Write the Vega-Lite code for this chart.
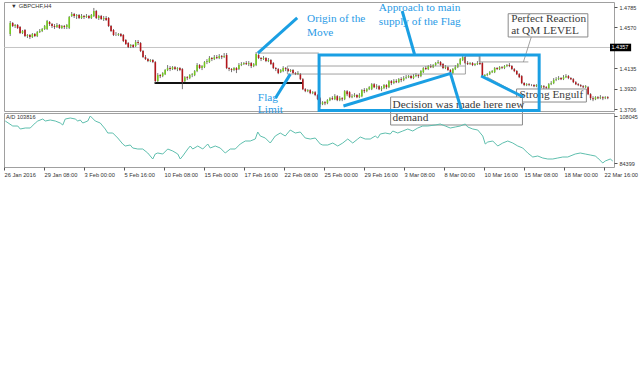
{
"$schema":"https://vega.github.io/schema/vega-lite/v6.json",
"padding":{"left":2,"top":1,"right":0,"bottom":0},
"bounds":"flush",
"spacing":2,
"background":"white",
"config":{"view":{"stroke":"#a0a0a0","strokeWidth":1},"axis":{"labelFont":"Liberation Sans","labelFontSize":5.7,"labelColor":"#333","tickColor":"#555","tickSize":3,"domain":false,"grid":false,"labelOverlap":false}},
"datasets":{
"candles":[
{"i":0,"o":1.4499,"h":1.4637,"l":1.4478,"c":1.4616},{"i":1,"o":1.4616,"h":1.4626,"l":1.4573,"c":1.4584},{"i":2,"o":1.4584,"h":1.4605,"l":1.4563,"c":1.4595},{"i":3,"o":1.4595,"h":1.4605,"l":1.4552,"c":1.4563},{"i":4,"o":1.4573,"h":1.4584,"l":1.4499,"c":1.4510},{"i":5,"o":1.4510,"h":1.4542,"l":1.4499,"c":1.4531},{"i":6,"o":1.4542,"h":1.4552,"l":1.4467,"c":1.4478},{"i":7,"o":1.4478,"h":1.4499,"l":1.4457,"c":1.4489},{"i":8,"o":1.4489,"h":1.4499,"l":1.4446,"c":1.4467},{"i":9,"o":1.4467,"h":1.4510,"l":1.4457,"c":1.4499},
{"i":10,"o":1.4499,"h":1.4510,"l":1.4467,"c":1.4478},{"i":11,"o":1.4478,"h":1.4531,"l":1.4467,"c":1.4520},{"i":12,"o":1.4520,"h":1.4552,"l":1.4510,"c":1.4531},{"i":13,"o":1.4531,"h":1.4563,"l":1.4520,"c":1.4552},{"i":14,"o":1.4552,"h":1.4595,"l":1.4542,"c":1.4584},{"i":15,"o":1.4552,"h":1.4648,"l":1.4542,"c":1.4637},{"i":16,"o":1.4626,"h":1.4637,"l":1.4584,"c":1.4605},{"i":17,"o":1.4605,"h":1.4616,"l":1.4563,"c":1.4584},{"i":18,"o":1.4584,"h":1.4605,"l":1.4552,"c":1.4573},{"i":19,"o":1.4573,"h":1.4616,"l":1.4563,"c":1.4595},
{"i":20,"o":1.4595,"h":1.4605,"l":1.4552,"c":1.4563},{"i":21,"o":1.4563,"h":1.4595,"l":1.4552,"c":1.4584},{"i":22,"o":1.4584,"h":1.4595,"l":1.4552,"c":1.4573},{"i":23,"o":1.4573,"h":1.4605,"l":1.4552,"c":1.4595},{"i":24,"o":1.4563,"h":1.4690,"l":1.4552,"c":1.4679},{"i":25,"o":1.4690,"h":1.4732,"l":1.4679,"c":1.4711},{"i":26,"o":1.4711,"h":1.4722,"l":1.4669,"c":1.4690},{"i":27,"o":1.4690,"h":1.4711,"l":1.4658,"c":1.4701},{"i":28,"o":1.4701,"h":1.4711,"l":1.4658,"c":1.4669},{"i":29,"o":1.4669,"h":1.4711,"l":1.4658,"c":1.4690},
{"i":30,"o":1.4690,"h":1.4701,"l":1.4658,"c":1.4679},{"i":31,"o":1.4679,"h":1.4711,"l":1.4669,"c":1.4690},{"i":32,"o":1.4690,"h":1.4701,"l":1.4658,"c":1.4669},{"i":33,"o":1.4669,"h":1.4711,"l":1.4658,"c":1.4701},{"i":34,"o":1.4690,"h":1.4775,"l":1.4679,"c":1.4743},{"i":35,"o":1.4743,"h":1.4754,"l":1.4658,"c":1.4669},{"i":36,"o":1.4669,"h":1.4701,"l":1.4648,"c":1.4690},{"i":37,"o":1.4690,"h":1.4701,"l":1.4648,"c":1.4658},{"i":38,"o":1.4658,"h":1.4690,"l":1.4637,"c":1.4669},{"i":39,"o":1.4669,"h":1.4690,"l":1.4637,"c":1.4648},
{"i":40,"o":1.4669,"h":1.4679,"l":1.4573,"c":1.4584},{"i":41,"o":1.4584,"h":1.4595,"l":1.4520,"c":1.4531},{"i":42,"o":1.4542,"h":1.4552,"l":1.4478,"c":1.4489},{"i":43,"o":1.4499,"h":1.4520,"l":1.4478,"c":1.4499},{"i":44,"o":1.4489,"h":1.4510,"l":1.4478,"c":1.4499},{"i":45,"o":1.4499,"h":1.4510,"l":1.4467,"c":1.4478},{"i":46,"o":1.4489,"h":1.4499,"l":1.4414,"c":1.4425},{"i":47,"o":1.4436,"h":1.4446,"l":1.4383,"c":1.4393},{"i":48,"o":1.4404,"h":1.4414,"l":1.4351,"c":1.4361},{"i":49,"o":1.4372,"h":1.4393,"l":1.4351,"c":1.4383},
{"i":50,"o":1.4383,"h":1.4393,"l":1.4351,"c":1.4361},{"i":51,"o":1.4372,"h":1.4436,"l":1.4361,"c":1.4414},{"i":52,"o":1.4414,"h":1.4436,"l":1.4383,"c":1.4404},{"i":53,"o":1.4404,"h":1.4414,"l":1.4308,"c":1.4319},{"i":54,"o":1.4319,"h":1.4330,"l":1.4245,"c":1.4255},{"i":55,"o":1.4255,"h":1.4277,"l":1.4224,"c":1.4234},{"i":56,"o":1.4234,"h":1.4245,"l":1.4202,"c":1.4213},{"i":57,"o":1.4213,"h":1.4234,"l":1.4202,"c":1.4224},{"i":58,"o":1.4224,"h":1.4234,"l":1.4192,"c":1.4202},{"i":59,"o":1.4202,"h":1.4213,"l":1.3980,"c":1.4001},
{"i":60,"o":1.4001,"h":1.4086,"l":1.3990,"c":1.4065},{"i":61,"o":1.4065,"h":1.4075,"l":1.4033,"c":1.4054},{"i":62,"o":1.4054,"h":1.4096,"l":1.4043,"c":1.4086},{"i":63,"o":1.4075,"h":1.4128,"l":1.4065,"c":1.4118},{"i":64,"o":1.4118,"h":1.4171,"l":1.4107,"c":1.4139},{"i":65,"o":1.4139,"h":1.4160,"l":1.4107,"c":1.4128},{"i":66,"o":1.4128,"h":1.4160,"l":1.4118,"c":1.4149},{"i":67,"o":1.4149,"h":1.4160,"l":1.4118,"c":1.4128},{"i":68,"o":1.4128,"h":1.4149,"l":1.4107,"c":1.4139},{"i":69,"o":1.4139,"h":1.4149,"l":1.4107,"c":1.4118},
{"i":70,"o":1.4128,"h":1.4139,"l":1.3916,"c":1.3990},{"i":71,"o":1.4001,"h":1.4054,"l":1.3990,"c":1.4043},{"i":72,"o":1.4043,"h":1.4054,"l":1.4012,"c":1.4033},{"i":73,"o":1.4033,"h":1.4075,"l":1.4022,"c":1.4065},{"i":74,"o":1.4065,"h":1.4086,"l":1.4043,"c":1.4075},{"i":75,"o":1.4065,"h":1.4118,"l":1.4054,"c":1.4107},{"i":76,"o":1.4107,"h":1.4192,"l":1.4096,"c":1.4171},{"i":77,"o":1.4171,"h":1.4181,"l":1.4128,"c":1.4139},{"i":78,"o":1.4139,"h":1.4171,"l":1.4118,"c":1.4160},{"i":79,"o":1.4149,"h":1.4213,"l":1.4139,"c":1.4202},
{"i":80,"o":1.4202,"h":1.4234,"l":1.4181,"c":1.4213},{"i":81,"o":1.4202,"h":1.4266,"l":1.4192,"c":1.4245},{"i":82,"o":1.4245,"h":1.4255,"l":1.4213,"c":1.4234},{"i":83,"o":1.4234,"h":1.4277,"l":1.4224,"c":1.4255},{"i":84,"o":1.4255,"h":1.4277,"l":1.4234,"c":1.4245},{"i":85,"o":1.4245,"h":1.4287,"l":1.4234,"c":1.4266},{"i":86,"o":1.4266,"h":1.4277,"l":1.4234,"c":1.4255},{"i":87,"o":1.4255,"h":1.4298,"l":1.4245,"c":1.4266},{"i":88,"o":1.4277,"h":1.4298,"l":1.4128,"c":1.4139},{"i":89,"o":1.4139,"h":1.4149,"l":1.4107,"c":1.4128},
{"i":90,"o":1.4128,"h":1.4139,"l":1.4096,"c":1.4118},{"i":91,"o":1.4118,"h":1.4149,"l":1.4107,"c":1.4139},{"i":92,"o":1.4139,"h":1.4149,"l":1.4086,"c":1.4118},{"i":93,"o":1.4128,"h":1.4192,"l":1.4118,"c":1.4171},{"i":94,"o":1.4171,"h":1.4202,"l":1.4160,"c":1.4181},{"i":95,"o":1.4181,"h":1.4202,"l":1.4171,"c":1.4192},{"i":96,"o":1.4192,"h":1.4213,"l":1.4171,"c":1.4181},{"i":97,"o":1.4181,"h":1.4213,"l":1.4160,"c":1.4192},{"i":98,"o":1.4192,"h":1.4202,"l":1.4139,"c":1.4160},{"i":99,"o":1.4160,"h":1.4192,"l":1.4149,"c":1.4181},
{"i":100,"o":1.4171,"h":1.4308,"l":1.4160,"c":1.4287},{"i":101,"o":1.4277,"h":1.4287,"l":1.4234,"c":1.4245},{"i":102,"o":1.4245,"h":1.4255,"l":1.4213,"c":1.4234},{"i":103,"o":1.4234,"h":1.4266,"l":1.4224,"c":1.4245},{"i":104,"o":1.4245,"h":1.4255,"l":1.4202,"c":1.4213},{"i":105,"o":1.4213,"h":1.4245,"l":1.4202,"c":1.4224},{"i":106,"o":1.4224,"h":1.4234,"l":1.4171,"c":1.4181},{"i":107,"o":1.4192,"h":1.4202,"l":1.4128,"c":1.4139},{"i":108,"o":1.4139,"h":1.4149,"l":1.4107,"c":1.4128},{"i":109,"o":1.4128,"h":1.4139,"l":1.4075,"c":1.4086},
{"i":110,"o":1.4096,"h":1.4128,"l":1.4086,"c":1.4118},{"i":111,"o":1.4107,"h":1.4160,"l":1.4096,"c":1.4139},{"i":112,"o":1.4139,"h":1.4149,"l":1.4107,"c":1.4128},{"i":113,"o":1.4128,"h":1.4139,"l":1.4096,"c":1.4107},{"i":114,"o":1.4107,"h":1.4128,"l":1.4096,"c":1.4118},{"i":115,"o":1.4118,"h":1.4128,"l":1.4075,"c":1.4086},{"i":116,"o":1.4086,"h":1.4096,"l":1.4065,"c":1.4075},{"i":117,"o":1.4075,"h":1.4107,"l":1.4065,"c":1.4086},{"i":118,"o":1.4075,"h":1.4086,"l":1.4012,"c":1.4022},{"i":119,"o":1.4022,"h":1.4033,"l":1.3906,"c":1.3916},
{"i":120,"o":1.3916,"h":1.3927,"l":1.3884,"c":1.3895},{"i":121,"o":1.3895,"h":1.3916,"l":1.3884,"c":1.3906},{"i":122,"o":1.3906,"h":1.3916,"l":1.3863,"c":1.3874},{"i":123,"o":1.3874,"h":1.3895,"l":1.3863,"c":1.3884},{"i":124,"o":1.3884,"h":1.3895,"l":1.3842,"c":1.3853},{"i":125,"o":1.3853,"h":1.3863,"l":1.3800,"c":1.3810},{"i":126,"o":1.3821,"h":1.3831,"l":1.3725,"c":1.3757},{"i":127,"o":1.3757,"h":1.3789,"l":1.3747,"c":1.3778},{"i":128,"o":1.3778,"h":1.3789,"l":1.3747,"c":1.3768},{"i":129,"o":1.3768,"h":1.3810,"l":1.3757,"c":1.3800},
{"i":130,"o":1.3800,"h":1.3831,"l":1.3789,"c":1.3821},{"i":131,"o":1.3821,"h":1.3842,"l":1.3800,"c":1.3810},{"i":132,"o":1.3810,"h":1.3863,"l":1.3800,"c":1.3842},{"i":133,"o":1.3842,"h":1.3853,"l":1.3789,"c":1.3800},{"i":134,"o":1.3800,"h":1.3842,"l":1.3789,"c":1.3821},{"i":135,"o":1.3821,"h":1.3831,"l":1.3789,"c":1.3810},{"i":136,"o":1.3810,"h":1.3906,"l":1.3800,"c":1.3895},{"i":137,"o":1.3895,"h":1.3906,"l":1.3842,"c":1.3863},{"i":138,"o":1.3884,"h":1.3895,"l":1.3821,"c":1.3831},{"i":139,"o":1.3831,"h":1.3863,"l":1.3821,"c":1.3842},
{"i":140,"o":1.3842,"h":1.3874,"l":1.3831,"c":1.3853},{"i":141,"o":1.3853,"h":1.3863,"l":1.3821,"c":1.3831},{"i":142,"o":1.3831,"h":1.3874,"l":1.3821,"c":1.3853},{"i":143,"o":1.3842,"h":1.3916,"l":1.3831,"c":1.3906},{"i":144,"o":1.3906,"h":1.3927,"l":1.3874,"c":1.3895},{"i":145,"o":1.3895,"h":1.3927,"l":1.3884,"c":1.3916},{"i":146,"o":1.3916,"h":1.3948,"l":1.3906,"c":1.3937},{"i":147,"o":1.3916,"h":1.3980,"l":1.3906,"c":1.3969},{"i":148,"o":1.3969,"h":1.3980,"l":1.3927,"c":1.3937},{"i":149,"o":1.3937,"h":1.3969,"l":1.3916,"c":1.3948},
{"i":150,"o":1.3948,"h":1.3959,"l":1.3906,"c":1.3916},{"i":151,"o":1.3916,"h":1.3948,"l":1.3895,"c":1.3927},{"i":152,"o":1.3927,"h":1.3969,"l":1.3916,"c":1.3959},{"i":153,"o":1.3959,"h":1.3969,"l":1.3916,"c":1.3937},{"i":154,"o":1.3937,"h":1.4012,"l":1.3927,"c":1.4001},{"i":155,"o":1.4001,"h":1.4012,"l":1.3959,"c":1.3980},{"i":156,"o":1.3980,"h":1.4022,"l":1.3969,"c":1.4001},{"i":157,"o":1.4001,"h":1.4022,"l":1.3980,"c":1.3990},{"i":158,"o":1.3990,"h":1.4033,"l":1.3980,"c":1.4022},{"i":159,"o":1.4022,"h":1.4043,"l":1.3990,"c":1.4012},
{"i":160,"o":1.4012,"h":1.4054,"l":1.4001,"c":1.4033},{"i":161,"o":1.4033,"h":1.4065,"l":1.4022,"c":1.4043},{"i":162,"o":1.4043,"h":1.4065,"l":1.4033,"c":1.4054},{"i":163,"o":1.4054,"h":1.4065,"l":1.4022,"c":1.4033},{"i":164,"o":1.4033,"h":1.4075,"l":1.4022,"c":1.4054},{"i":165,"o":1.4054,"h":1.4086,"l":1.4043,"c":1.4065},{"i":166,"o":1.4065,"h":1.4075,"l":1.4033,"c":1.4054},{"i":167,"o":1.4054,"h":1.4118,"l":1.4043,"c":1.4107},{"i":168,"o":1.4096,"h":1.4149,"l":1.4086,"c":1.4139},{"i":169,"o":1.4139,"h":1.4160,"l":1.4118,"c":1.4128},
{"i":170,"o":1.4128,"h":1.4171,"l":1.4118,"c":1.4160},{"i":171,"o":1.4160,"h":1.4181,"l":1.4139,"c":1.4149},{"i":172,"o":1.4149,"h":1.4181,"l":1.4139,"c":1.4171},{"i":173,"o":1.4171,"h":1.4202,"l":1.4160,"c":1.4192},{"i":174,"o":1.4192,"h":1.4224,"l":1.4181,"c":1.4202},{"i":175,"o":1.4202,"h":1.4213,"l":1.4160,"c":1.4171},{"i":176,"o":1.4181,"h":1.4192,"l":1.4128,"c":1.4139},{"i":177,"o":1.4139,"h":1.4171,"l":1.4128,"c":1.4149},{"i":178,"o":1.4149,"h":1.4160,"l":1.4107,"c":1.4118},{"i":179,"o":1.4118,"h":1.4128,"l":1.4065,"c":1.4086},
{"i":180,"o":1.4086,"h":1.4139,"l":1.4075,"c":1.4128},{"i":181,"o":1.4128,"h":1.4171,"l":1.4118,"c":1.4149},{"i":182,"o":1.4149,"h":1.4192,"l":1.4139,"c":1.4181},{"i":183,"o":1.4181,"h":1.4245,"l":1.4171,"c":1.4234},{"i":184,"o":1.4224,"h":1.4287,"l":1.4213,"c":1.4255},{"i":185,"o":1.4255,"h":1.4266,"l":1.4181,"c":1.4192},{"i":186,"o":1.4192,"h":1.4213,"l":1.4171,"c":1.4181},{"i":187,"o":1.4181,"h":1.4202,"l":1.4171,"c":1.4192},{"i":188,"o":1.4192,"h":1.4202,"l":1.4160,"c":1.4171},{"i":189,"o":1.4171,"h":1.4192,"l":1.4160,"c":1.4181},
{"i":190,"o":1.4181,"h":1.4213,"l":1.4171,"c":1.4192},{"i":191,"o":1.4192,"h":1.4266,"l":1.4171,"c":1.4181},{"i":192,"o":1.4192,"h":1.4202,"l":1.4043,"c":1.4054},{"i":193,"o":1.4054,"h":1.4075,"l":1.4043,"c":1.4065},{"i":194,"o":1.4065,"h":1.4086,"l":1.4054,"c":1.4075},{"i":195,"o":1.4075,"h":1.4107,"l":1.4065,"c":1.4096},{"i":196,"o":1.4096,"h":1.4118,"l":1.4086,"c":1.4107},{"i":197,"o":1.4096,"h":1.4149,"l":1.4086,"c":1.4139},{"i":198,"o":1.4139,"h":1.4149,"l":1.4118,"c":1.4128},{"i":199,"o":1.4128,"h":1.4160,"l":1.4118,"c":1.4149},
{"i":200,"o":1.4149,"h":1.4160,"l":1.4128,"c":1.4139},{"i":201,"o":1.4139,"h":1.4171,"l":1.4128,"c":1.4160},{"i":202,"o":1.4160,"h":1.4181,"l":1.4149,"c":1.4171},{"i":203,"o":1.4171,"h":1.4192,"l":1.4149,"c":1.4160},{"i":204,"o":1.4160,"h":1.4171,"l":1.4118,"c":1.4128},{"i":205,"o":1.4128,"h":1.4139,"l":1.4096,"c":1.4107},{"i":206,"o":1.4107,"h":1.4118,"l":1.4065,"c":1.4075},{"i":207,"o":1.4075,"h":1.4086,"l":1.4033,"c":1.4043},{"i":208,"o":1.4054,"h":1.4065,"l":1.3969,"c":1.3980},{"i":209,"o":1.3980,"h":1.3990,"l":1.3948,"c":1.3959},
{"i":210,"o":1.3959,"h":1.3980,"l":1.3948,"c":1.3969},{"i":211,"o":1.3969,"h":1.3980,"l":1.3948,"c":1.3959},{"i":212,"o":1.3959,"h":1.3969,"l":1.3948,"c":1.3959},{"i":213,"o":1.3959,"h":1.3969,"l":1.3937,"c":1.3948},{"i":214,"o":1.3948,"h":1.3969,"l":1.3937,"c":1.3959},{"i":215,"o":1.3959,"h":1.3969,"l":1.3927,"c":1.3937},{"i":216,"o":1.3937,"h":1.3959,"l":1.3927,"c":1.3948},{"i":217,"o":1.3948,"h":1.3959,"l":1.3916,"c":1.3937},{"i":218,"o":1.3937,"h":1.3948,"l":1.3906,"c":1.3927},{"i":219,"o":1.3927,"h":1.3980,"l":1.3916,"c":1.3969},
{"i":220,"o":1.3969,"h":1.4001,"l":1.3959,"c":1.3980},{"i":221,"o":1.3980,"h":1.4033,"l":1.3969,"c":1.4012},{"i":222,"o":1.4012,"h":1.4043,"l":1.4001,"c":1.4022},{"i":223,"o":1.4022,"h":1.4054,"l":1.4012,"c":1.4033},{"i":224,"o":1.4033,"h":1.4043,"l":1.4012,"c":1.4022},{"i":225,"o":1.4022,"h":1.4065,"l":1.4012,"c":1.4043},{"i":226,"o":1.4043,"h":1.4075,"l":1.4033,"c":1.4054},{"i":227,"o":1.4054,"h":1.4065,"l":1.4022,"c":1.4033},{"i":228,"o":1.4033,"h":1.4043,"l":1.4012,"c":1.4022},{"i":229,"o":1.4022,"h":1.4033,"l":1.3980,"c":1.3990},
{"i":230,"o":1.3990,"h":1.4001,"l":1.3959,"c":1.3969},{"i":231,"o":1.3969,"h":1.3980,"l":1.3948,"c":1.3959},{"i":232,"o":1.3959,"h":1.3969,"l":1.3937,"c":1.3948},{"i":233,"o":1.3948,"h":1.3959,"l":1.3927,"c":1.3937},{"i":234,"o":1.3937,"h":1.3959,"l":1.3927,"c":1.3948},{"i":235,"o":1.3937,"h":1.3948,"l":1.3853,"c":1.3863},{"i":236,"o":1.3863,"h":1.3874,"l":1.3800,"c":1.3821},{"i":237,"o":1.3821,"h":1.3842,"l":1.3789,"c":1.3810},{"i":238,"o":1.3810,"h":1.3842,"l":1.3800,"c":1.3831},{"i":239,"o":1.3831,"h":1.3842,"l":1.3810,"c":1.3821},
{"i":240,"o":1.3821,"h":1.3853,"l":1.3810,"c":1.3831},{"i":241,"o":1.3831,"h":1.3842,"l":1.3800,"c":1.3821},{"i":242,"o":1.3821,"h":1.3842,"l":1.3810,"c":1.3831},{"i":243,"o":1.3831,"h":1.3842,"l":1.3810,"c":1.3821}
],
"ad":[
{"i":0,"v":105530},{"i":3,"v":103015},{"i":5,"v":103015},{"i":6,"v":101506},{"i":8,"v":102009},{"i":10,"v":102009},{"i":12,"v":104524},{"i":13,"v":105530},{"i":15,"v":106536},{"i":16,"v":105530},{"i":18,"v":106033},{"i":20,"v":105530},{"i":22,"v":104524},{"i":23,"v":103518},{"i":24,"v":106536},{"i":26,"v":107039},{"i":28,"v":106536},{"i":29,"v":105530},{"i":30,"v":106033},{"i":31,"v":104524},{"i":33,"v":105530},{"i":34,"v":108045},{"i":36,"v":105530},{"i":38,"v":104524},{"i":40,"v":101506},{"i":41,"v":99494},{"i":43,"v":99494},{"i":45,"v":96979},{"i":47,"v":93961},{"i":48,"v":92955},{"i":50,"v":93458},{"i":51,"v":91949},{"i":53,"v":91446},{"i":55,"v":91446},{"i":57,"v":89434},{"i":59,"v":86416},{"i":60,"v":88931},{"i":61,"v":89434},{"i":63,"v":88931},{"i":65,"v":91446},{"i":67,"v":90440},{"i":69,"v":88931},{"i":70,"v":86416},{"i":71,"v":87925},{"i":73,"v":91446},{"i":74,"v":92955},{"i":75,"v":91446},{"i":77,"v":92955},{"i":79,"v":91446},{"i":81,"v":93961},{"i":82,"v":91949},{"i":84,"v":92955},{"i":86,"v":91949},{"i":88,"v":89434},{"i":90,"v":91446},{"i":92,"v":91446},{"i":94,"v":93961},{"i":96,"v":95470},{"i":98,"v":95470},{"i":100,"v":96476},{"i":101,"v":99997},{"i":102,"v":97985},{"i":104,"v":96979},{"i":106,"v":94464},{"i":108,"v":97985},{"i":110,"v":99494},{"i":112,"v":97985},{"i":114,"v":101003},{"i":116,"v":99494},{"i":118,"v":99997},{"i":120,"v":96979},{"i":122,"v":96476},{"i":124,"v":96979},{"i":126,"v":93961},{"i":127,"v":93458},{"i":129,"v":93458},{"i":131,"v":94464},{"i":133,"v":92955},{"i":135,"v":94464},{"i":137,"v":96476},{"i":139,"v":94464},{"i":141,"v":96476},{"i":142,"v":97482},{"i":144,"v":96476},{"i":146,"v":96476},{"i":148,"v":97985},{"i":149,"v":96979},{"i":150,"v":98991},{"i":152,"v":99494},{"i":154,"v":98991},{"i":155,"v":100500},{"i":157,"v":99494},{"i":159,"v":100500},{"i":161,"v":101506},{"i":163,"v":100500},{"i":165,"v":102009},{"i":167,"v":103015},{"i":169,"v":103015},{"i":172,"v":103518},{"i":174,"v":104021},{"i":176,"v":103015},{"i":178,"v":102009},{"i":180,"v":102512},{"i":182,"v":103015},{"i":184,"v":104021},{"i":185,"v":102512},{"i":187,"v":101506},{"i":189,"v":101003},{"i":191,"v":97985},{"i":192,"v":93961},{"i":193,"v":94967},{"i":195,"v":95470},{"i":197,"v":92955},{"i":199,"v":94464},{"i":201,"v":95470},{"i":203,"v":94464},{"i":205,"v":92955},{"i":207,"v":91949},{"i":209,"v":89434},{"i":211,"v":87422},{"i":213,"v":87925},{"i":215,"v":86919},{"i":217,"v":86416},{"i":219,"v":86416},{"i":221,"v":86919},{"i":223,"v":87422},{"i":225,"v":87422},{"i":228,"v":88931},{"i":230,"v":89434},{"i":232,"v":88931},{"i":234,"v":88428},{"i":236,"v":87925},{"i":237,"v":86919},{"i":239,"v":84399},{"i":240,"v":85410},{"i":242,"v":86416},{"i":243,"v":85410}
],
"lines":[
{"k":"gray","x":100.7,"x2":125.5,"y":1.4298,"y2":1.4298},
{"k":"gray","x":112.7,"x2":185.1,"y":1.4161,"y2":1.4161},
{"k":"gray","x":112.7,"x2":185.1,"y":1.4076,"y2":1.4076},
{"k":"gray","x":112.7,"x2":112.7,"y":1.4161,"y2":1.4076},
{"k":"gray","x":185.1,"x2":185.1,"y":1.4267,"y2":1.4076},
{"k":"gray","x":185.1,"x2":190.7,"y":1.4267,"y2":1.4267},
{"k":"gray","x":190.7,"x2":190.7,"y":1.4267,"y2":1.4204},
{"k":"gray","x":190.7,"x2":210.7,"y":1.4204,"y2":1.4204},
{"k":"gray","x":211.9,"x2":208.7,"y":1.4468,"y2":1.4204},
{"k":"gray","x":193.9,"x2":205.9,"y":1.4044,"y2":1.3875},
{"k":"black","x":58.7,"x2":118.7,"y":1.3981,"y2":1.3981},
{"k":"blue","x":100.7,"x2":116.7,"y":1.4298,"y2":1.4669},
{"k":"blue","x":107.9,"x2":113.9,"y":1.3822,"y2":1.4075},
{"k":"blue","x":159.4,"x2":164.4,"y":1.4743,"y2":1.4285},
{"k":"blue","x":135.5,"x2":179.5,"y":1.3738,"y2":1.4086},
{"k":"blue","x":179.1,"x2":183.5,"y":1.4076,"y2":1.3695},
{"k":"blue","x":191.5,"x2":208.7,"y":1.4055,"y2":1.3833}
],
"boxes":[
{"k":"note","x":202.5,"x2":234.9,"y":1.4714,"y2":1.4468},
{"k":"note","x":205.9,"x2":234.3,"y":1.3918,"y2":1.3780},
{"k":"note","x":154.7,"x2":208.3,"y":1.3833,"y2":1.3537},
{"k":"zone","x":125.6,"x2":215.1,"y":1.4277,"y2":1.3690}
],
"labels":[
{"k":"blue","t":"Origin of the","x":120.7,"y":1.4658},
{"k":"blue","t":"Move","x":120.7,"y":1.4510},
{"k":"blue","t":"Approach to main","x":149.9,"y":1.4774},
{"k":"blue","t":"supply of the Flag","x":149.9,"y":1.4626},
{"k":"blue","t":"Flag","x":100.7,"y":1.3822},
{"k":"blue","t":"Limit","x":100.7,"y":1.3695},
{"k":"dark","t":"Perfect Reaction","x":203.7,"y":1.4653},
{"k":"dark","t":"at QM LEVEL","x":203.7,"y":1.4526},
{"k":"dark","t":"Strong Engulf","x":207.1,"y":1.3849},
{"k":"dark","t":"Decision was made here new","x":155.5,"y":1.3748},
{"k":"dark","t":"demand","x":155.5,"y":1.3611}
]
},
"vconcat":[
{
"width":610,"height":109,
"layer":[
{"data":{"values":[{"p":1.4357}]},"mark":{"type":"rule","color":"#c4c4c4","strokeWidth":1},
 "encoding":{"y":{"field":"p","type":"quantitative","title":null,"scale":{"domain":[1.3685,1.4838],"nice":false,"zero":false},"axis":{"orient":"right","values":[1.4785,1.457,1.4135,1.392,1.3706],"tickCount":20,"format":".4f","labelFontSize":5.5,"labelOverlap":false}}}},
{"data":{"name":"lines"},"transform":[{"filter":"datum.k=='black'"}],"mark":{"type":"rule","color":"#111","strokeWidth":2},
 "encoding":{"x":{"field":"x","type":"quantitative","scale":{"domain":[-0.5,243.5],"nice":false,"zero":false},"axis":null},"x2":{"field":"x2"},"y":{"field":"y","type":"quantitative","title":null},"y2":{"field":"y2"}}},
{"data":{"name":"candles"},"mark":{"type":"rule","color":"#505050","strokeWidth":0.8},
 "encoding":{"x":{"field":"i","type":"quantitative","axis":null},"y":{"field":"l","type":"quantitative","title":null},"y2":{"field":"h"}}},
{"data":{"name":"candles"},"mark":{"type":"bar","width":1.6},
 "encoding":{"x":{"field":"i","type":"quantitative","axis":null},"y":{"field":"o","type":"quantitative","title":null},"y2":{"field":"c"},
 "color":{"condition":{"test":"datum.c>=datum.o","value":"#74c820"},"value":"#b3161b"}}},
{"data":{"name":"lines"},"transform":[{"filter":"datum.k=='gray'"}],"mark":{"type":"rule","color":"#8a8a8a","strokeWidth":0.8},
 "encoding":{"x":{"field":"x","type":"quantitative","axis":null},"x2":{"field":"x2"},"y":{"field":"y","type":"quantitative","title":null},"y2":{"field":"y2"}}},
{"data":{"name":"boxes"},"transform":[{"filter":"datum.k=='note'"}],"mark":{"type":"rect","fill":"white","stroke":"#8a8a8a","strokeWidth":1},
 "encoding":{"x":{"field":"x","type":"quantitative","axis":null},"x2":{"field":"x2"},"y":{"field":"y","type":"quantitative","title":null},"y2":{"field":"y2"}}},
{"data":{"name":"labels"},"mark":{"type":"text","align":"left","baseline":"middle","font":"Liberation Serif","fontSize":11.3},
 "encoding":{"x":{"field":"x","type":"quantitative","axis":null},"y":{"field":"y","type":"quantitative","title":null},"text":{"field":"t"},
 "color":{"field":"k","type":"nominal","scale":{"domain":["blue","dark"],"range":["#2a9be6","#3a3a3a"]},"legend":null}}},
{"data":{"name":"boxes"},"transform":[{"filter":"datum.k=='zone'"}],"mark":{"type":"rect","fill":null,"stroke":"#1a9fe3","strokeWidth":3},
 "encoding":{"x":{"field":"x","type":"quantitative","axis":null},"x2":{"field":"x2"},"y":{"field":"y","type":"quantitative","title":null},"y2":{"field":"y2"}}},
{"data":{"name":"lines"},"transform":[{"filter":"datum.k=='blue'"}],"mark":{"type":"rule","color":"#1a9fe3","strokeWidth":3},
 "encoding":{"x":{"field":"x","type":"quantitative","axis":null},"x2":{"field":"x2"},"y":{"field":"y","type":"quantitative","title":null},"y2":{"field":"y2"}}},
{"data":{"values":[{"t":"▼","x":0.3,"y":1.4796},{"t":"GBPCHF,H4","x":3.5,"y":1.4796}]},"mark":{"type":"text","align":"left","baseline":"middle","font":"Liberation Sans","fontSize":5.8,"color":"#333"},
 "encoding":{"x":{"field":"x","type":"quantitative","axis":null},"y":{"field":"y","type":"quantitative","title":null},"text":{"field":"t"}}},
{"data":{"values":[{"x":243.9,"x2":252.5,"y":1.4397,"y2":1.4317}]},"mark":{"type":"rect","fill":"black"},
 "encoding":{"x":{"field":"x","type":"quantitative","axis":null},"x2":{"field":"x2"},"y":{"field":"y","type":"quantitative","title":null},"y2":{"field":"y2"}}},
{"data":{"values":[{"x":243.9,"p":1.4357,"t":"1.4357"}]},"mark":{"type":"text","align":"left","baseline":"middle","font":"Liberation Sans","fontSize":5.5,"color":"white","dx":1.5},
 "encoding":{"x":{"field":"x","type":"quantitative","axis":null},"y":{"field":"p","type":"quantitative","title":null},"text":{"field":"t"}}}
]
},
{
"width":610,"height":54,
"layer":[
{"data":{"name":"ad"},"mark":{"type":"line","color":"#5fbfae","strokeWidth":1},
 "encoding":{"x":{"field":"i","type":"quantitative","title":null,"scale":{"domain":[-0.5,243.5],"nice":false,"zero":false},
   "axis":{"orient":"bottom","values":[-0.5,15.5,31.5,47.5,63.5,79.5,95.5,111.5,127.5,143.5,159.5,175.5,191.5,207.5,223.5,239.5],"tickCount":40,"labelAlign":"left","labelPadding":1,"labelFontSize":5.7,"labelOverlap":false,
   "labelExpr":"['26 Jan 2016','29 Jan 08:00','3 Feb 00:00','5 Feb 16:00','10 Feb 08:00','15 Feb 00:00','17 Feb 16:00','22 Feb 08:00','25 Feb 00:00','29 Feb 16:00','3 Mar 08:00','8 Mar 00:00','10 Mar 16:00','15 Mar 08:00','18 Mar 00:00','22 Mar 16:00'][round((datum.value+0.5)/16)]"}},
 "y":{"field":"v","type":"quantitative","title":null,"scale":{"domain":[82392,109554],"nice":false,"zero":false},"axis":{"orient":"right","values":[108045,84399],"format":"d","labelFontSize":5.5,"labelOverlap":false}}}},
{"data":{"values":[{"t":"A/D 103816","x":0.3,"v":107300}]},"mark":{"type":"text","align":"left","baseline":"middle","font":"Liberation Sans","fontSize":5.6,"color":"#333"},
 "encoding":{"x":{"field":"x","type":"quantitative","title":null},"y":{"field":"v","type":"quantitative","title":null},"text":{"field":"t"}}}
]
}
]
}
